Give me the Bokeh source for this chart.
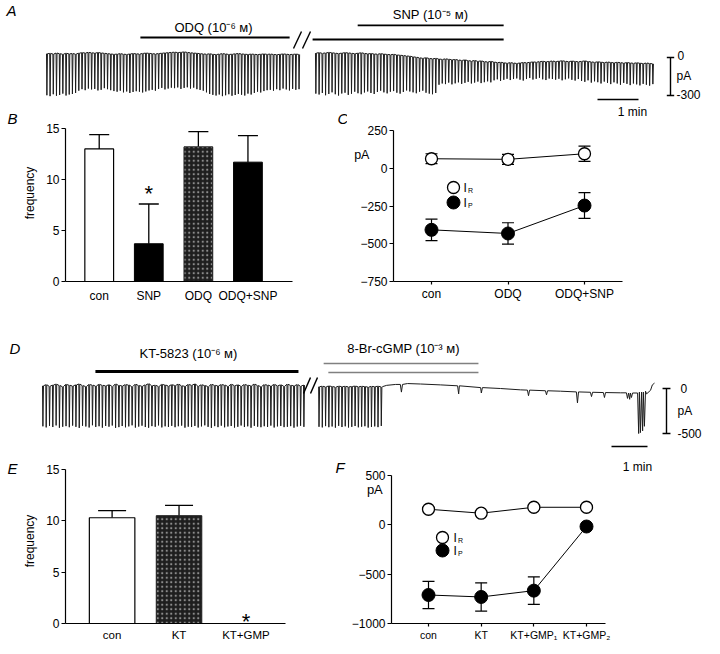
import numpy as np
from bokeh.plotting import figure
from bokeh.models import Range1d, ColumnDataSource, Whisker, TeeHead, Label, FixedTicker
from bokeh.layouts import column, row
from bokeh.embed import file_html
from bokeh.resources import INLINE

FONT = "Liberation Sans"

# ======================= DATA =======================
# Panel A: membrane current recording (pA); each spike = baseline, peak
A1_span = [0.0, 6.15]          # minutes (before break)
A1_base = [30, 32, 28, 35, 30, 26, 33, 29, 31, 27, 34, 38, 36, 40, 37, 35, 39, 36, 33, 30,
           28, 25, 27, 30, 26, 24, 28, 31, 29, 27, 32, 35, 33, 30, 28, 31, 34, 36, 38, 40,
           42, 39, 41, 44, 40, 37, 35, 33, 30, 28, 26, 29, 25, 23, 27, 30, 28, 24, 26, 29,
           31, 28, 26, 24, 27, 25, 23, 26, 28, 25, 27, 24, 22, 25, 28, 26, 23, 25, 27, 24]
A1_peak = [-298, -305, -290, -302, -296, -285, -300, -292, -288, -280,
           -262, -250, -258, -245, -252, -248, -260, -255, -242, -250,
           -258, -265, -270, -262, -275, -268, -280, -272, -266, -270,
           -276, -268, -260, -255, -262, -248, -240, -252, -245, -238,
           -242, -236, -248, -240, -235, -245, -238, -250, -256, -262,
           -275, -288, -295, -300, -292, -305, -298, -290, -302, -296,
           -288, -294, -300, -285, -292, -280, -270, -276, -265, -258,
           -255, -262, -250, -258, -245, -252, -260, -248, -255, -250]
A2_span = [6.56, 14.78]        # minutes (after break)
A2_base = [35, 38, 33, 36, 40, 37, 34, 31, 35, 38, 36, 33, 30, 34, 37, 32, 29, 31, 28, 26,
           30, 27, 24, 22, 25, 20, 18, 15, 12, 10,
           5, 2, -3, -6, -2, -8, -10, -7, -12, -15, -11, -14, -18, -16, -20, -23, -19, -25, -28, -24,
           -30, -27, -33, -35, -31,
           -36, -40, -38, -42, -45, -41, -44, -47, -43, -40, -42, -38, -35, -37, -33, -30, -34, -31, -28, -32,
           -29, -26, -30, -33, -28,
           -31, -34, -30, -27, -32, -35, -38, -34, -37, -40, -36, -39, -42, -38, -41, -44, -40, -43, -46, -42,
           -45, -48, -44, -47, -50]
A2_peak = [-285, -292, -280, -298, -288, -275, -290, -300, -284, -278,
           -295, -286, -270, -282, -290, -276, -268, -280, -288, -272,
           -262, -275, -283, -270, -265, -278, -285, -272, -260, -268,
           -275, -282, -270, -262, -278, -285, -290, -280,
           -215, -205, -210, -198, -212, -204, -196, -208, -200, -192,
           -205, -198, -190, -202, -195, -188, -196,
           -180, -172, -185, -176, -168, -178, -170, -165, -175, -182,
           -170, -162, -174, -168, -160, -172, -178, -166, -170, -175,
           -168, -180, -172, -165, -176, -182, -170,
           -185, -192, -180, -198, -188, -195, -205, -190, -200, -210,
           -196, -205, -215, -200, -208, -218, -205, -212, -220, -208,
           -215, -222, -210]
A_drug_text = ["ODQ (10\u207b\u2076 \u1d0d)", "SNP (10\u207b\u2075 \u1d0d)"]
A_drug_start = [2.29, 6.49, 7.59]
A_drug_end = [5.93, 11.15, 11.15]
A_drug_level = [158, 142, 253]
A_scale_pA = [0, -300]
A_scale_min = 1

# Panel B
B_cats = ["con", "SNP", "ODQ", "ODQ+SNP"]
B_mean = [13.0, 3.7, 13.2, 11.7]
B_err = [1.4, 3.9, 1.5, 2.6]
B_sig = ["", "*", "", ""]

# Panel C
C_cats = ["con", "ODQ", "ODQ+SNP"]
C_IR = [63, 59, 96]
C_IR_err = [33, 33, 50]
C_IP = [-408, -432, -247]
C_IP_err = [71, 71, 85]

# Panel D
D1_span = [0.0, 7.25]
D1_base = [30, 42, 25, 38, 48, 33, 20, 45, 36, 28, 40, 50, 32, 22, 44, 37, 27, 46, 35, 30,
           41, 24, 49, 34, 29, 43, 38, 21, 47, 33, 26, 40, 52, 31, 36, 23, 45, 39, 28, 42,
           34, 48, 30, 25, 44, 37, 50, 27, 41, 33, 22, 46, 35, 29, 43, 38, 24, 47, 32, 40,
           26, 44, 36, 30, 49, 33, 21, 42, 38, 28, 45, 31, 40, 25, 47, 35, 30, 43, 27, 38]
D1_peak = [-420, -432, -415, -428, -410, -436, -425, -418, -430, -412,
           -426, -438, -414, -422, -433, -408, -427, -419, -435, -416,
           -424, -411, -437, -429, -417, -431, -421, -409, -434, -423,
           -413, -428, -436, -418, -425, -410, -432, -420, -427, -415,
           -430, -419, -412, -435, -424, -428, -416, -433, -421, -409,
           -426, -437, -418, -429, -413, -431, -422, -417, -434, -425,
           -411, -428, -420, -436, -415, -424, -430, -419, -427, -412,
           -433, -421, -416, -429, -425, -418, -435, -422, -414, -426]
D2_span = [7.67, 9.40]
D2_base = [20, 25, 18, 28, 22, 15, 26, 20, 24, 18, 22, 27, 19, 24, 21, 16, 23, 20, 25, 18]
D2_peak = [-425, -432, -418, -430, -422, -435, -415, -428, -420, -433,
           -426, -417, -431, -424, -419, -434, -427, -421, -429, -416]
D2_tail_t = [9.44, 9.56, 9.81, 9.94, 9.97, 10.0, 10.14, 10.5, 11.06, 11.53, 11.56, 11.58,
             12.17, 12.19, 12.22, 12.72, 13.28, 13.47, 13.5, 13.53, 13.97, 14.0, 14.03, 14.39,
             14.83, 14.86, 14.89, 15.22, 15.25, 15.28, 15.58, 15.61, 15.64, 16.06,
             16.22, 16.25, 16.28, 16.31, 16.33, 16.36, 16.39,
             16.53, 16.56, 16.58, 16.61, 16.64, 16.67, 16.69, 16.72, 16.75, 16.78,
             16.89, 16.94, 17.0]
D2_tail_v = [20, 35, 45, 45, -40, 45, 55, 50, 40, 30, -60, 30,
             10, -50, 10, 0, -15, -18, -80, -18, -25, -70, -25, -30,
             -38, -160, -38, -42, -90, -42, -45, -100, -45, -48,
             -48, -110, -50, -120, -50, -100, -50,
             -50, -500, -40, -490, -40, -470, -40, -420, -30, -60,
             -20, 40, 60]
D_drug_text = ["KT-5823 (10\u207b\u2076 \u1d0d)", "8-Br-cGMP (10\u207b\u00b3 \u1d0d)"]
D_drug_start = [1.47, 7.81, 7.94]
D_drug_end = [7.11, 12.11, 12.11]
D_drug_level = [189, 278, 178]
D_drug_color = ["black", "#808080", "#808080"]
D_drug_width = [3, 1.6, 1.6]
D_scale_pA = [0, -500]
D_scale_min = 1

# Panel E
E_cats = ["con", "KT", "KT+GMP"]
E_mean = [10.3, 10.5, 0.0]
E_err = [0.7, 1.0, 0.0]
E_sig = ["", "", "*"]

# Panel F
F_cats = ["con", "KT", "KT+GMP\u2081", "KT+GMP\u2082"]
F_IR = [158, 118, 178, 178]
F_IP = [-711, -731, -667, -17]
F_IP_err = [138, 143, 139, 0]

# ======================= HELPERS =======================
BOTTOM = 31  # common bottom border of the chart rows


def lin(p, pa, va, pb, vb):
    return va + (p - pa) * (vb - va) / (pb - pa)


def mapper(L, R, T, Bt, xr, yr):
    def f(px, py):
        return (xr[0] + (px - L) / (R - L) * (xr[1] - xr[0]),
                yr[0] + (Bt - py) / (Bt - T) * (yr[1] - yr[0]))
    return f


def lab(p, conv, px, py, text, size="12px", align="left", style="normal",
        baseline="middle", color="black"):
    x, y = conv(px, py)
    p.add_layout(Label(x=x, y=y, text=text, text_font=FONT, text_font_size=size,
                       text_align=align, text_baseline=baseline,
                       text_font_style=style, text_color=color))


def trace_xy(span, base, peak):
    n = len(peak)
    ts = np.linspace(span[0], span[1], n)
    dt = (span[1] - span[0]) / (n - 1)
    xs, ys = [], []
    for t, b, pk in zip(ts, base, peak):
        xs += [t, t + 0.12 * dt, t + 0.3 * dt]
        ys += [b, pk, b]
    return xs, ys


def trace_fig(w, h, xr, yr, bottom=0):
    p = figure(width=w, height=h, x_range=Range1d(*xr), y_range=Range1d(*yr),
               output_backend="svg", toolbar_location=None,
               x_axis_location=None, y_axis_location=None,
               min_border=0, min_border_left=0, min_border_right=0,
               min_border_top=0, min_border_bottom=bottom)
    p.outline_line_color = None
    p.grid.visible = False
    return p


def strip(L, R, T, Bt):
    """Blank text carrier in a chart row (frame = canvas minus the common bottom border)."""
    fb = Bt - BOTTOM
    p = trace_fig(R - L, Bt - T, (0, R - L), (0, fb - T), bottom=BOTTOM)
    return p, mapper(L, R, T, fb, (0, R - L), (0, fb - T))


def chart_fig(w, h, xr, yr, left):
    p = figure(width=w, height=h, x_range=Range1d(*xr), y_range=Range1d(*yr),
               output_backend="svg", toolbar_location=None,
               min_border_left=left, min_border_right=0,
               min_border_top=0, min_border_bottom=BOTTOM)
    p.outline_line_color = None
    p.grid.visible = False
    for ax in p.axis:
        ax.axis_line_width = 1.2
        ax.axis_line_color = "black"
        ax.major_tick_line_width = 1.2
        ax.major_tick_line_color = "black"
        ax.minor_tick_line_color = None
        ax.major_tick_in = 0
        ax.major_label_text_font = FONT
        ax.major_label_text_font_size = "12px"
        ax.major_label_text_color = "black"
        ax.axis_label_text_color = "black"
    return p


def set_ticks(p, xticks, xlabels, xbounds, yticks, ybounds, x_tick_out, x_standoff, xsize="12px"):
    xa = p.xaxis[0]
    xa.ticker = FixedTicker(ticks=xticks)
    xa.major_label_overrides = {t: l for t, l in zip(xticks, xlabels)}
    xa.bounds = xbounds
    xa.major_tick_out = x_tick_out
    if x_tick_out == 0:
        xa.major_tick_line_color = None
    xa.major_label_standoff = x_standoff
    xa.major_label_text_font_size = xsize
    ya = p.yaxis[0]
    ya.ticker = FixedTicker(ticks=yticks)
    ya.bounds = ybounds
    ya.major_tick_out = 4
    ya.major_label_standoff = 2


def freq_label(p):
    ya = p.yaxis[0]
    ya.axis_label = "frequency"
    ya.axis_label_text_font = FONT
    ya.axis_label_text_font_size = "12px"
    ya.axis_label_text_font_style = "normal"
    ya.axis_label_text_color = "black"
    ya.axis_label_standoff = 6


def unit_label(p, text, size, n_lines, standoff, line_height):
    # horizontal "pA" unit placed near the top of the y axis (padding lines below it)
    ya = p.yaxis[0]
    ya.axis_label = text + "\n \u00a0" * (n_lines - 1)
    ya.axis_label_text_font = FONT
    ya.axis_label_text_font_size = size
    ya.axis_label_text_font_style = "normal"
    ya.axis_label_text_color = "black"
    ya.axis_label_text_line_height = line_height
    ya.axis_label_standoff = standoff
    if "axis_label_orientation" in ya.properties():
        ya.axis_label_orientation = "horizontal"


STIPPLE = dict(fill_color="#1e1e1e", line_color="#1e1e1e", hatch_pattern="dot",
               hatch_color="#8c8c8c", hatch_scale=4.5, hatch_weight=1)

ROW1_T = 104   # top of the B/C row
ROW2_T = 458   # top of the E/F row

# ======================= PANEL A =======================
A_L, A_R, A_T, A_B = 0, 720, 0, ROW1_T
tA = lambda px: (px - 46) / 41.0
yA = lambda py: (57 - py) / (38 / 300.0)
A_xr = (tA(A_L), tA(A_R))
A_yr = (yA(A_B), yA(A_T))
pA_ = trace_fig(A_R - A_L, A_B - A_T, A_xr, A_yr)
cA = mapper(A_L, A_R, A_T, A_B, A_xr, A_yr)
for span, base, peak in [(A1_span, A1_base, A1_peak), (A2_span, A2_base, A2_peak)]:
    xs, ys = trace_xy(span, base, peak)
    pA_.line(xs, ys, line_width=1.0, color="#1c1c1c")
pA_.segment(x0=A_drug_start, x1=A_drug_end, y0=A_drug_level, y1=A_drug_level,
            line_width=[2.0, 2.0, 1.8], color="black")
bx0, by0 = cA(293, 48); bx1, by1 = cA(301, 31)
bx2, by2 = cA(302, 48); bx3, by3 = cA(310, 31)
pA_.segment(x0=[bx0, bx2], y0=[by0, by2], x1=[bx1, bx3], y1=[by1, by3], line_width=1.4, color="black")
sx = tA(670)
pA_.segment(x0=[sx], x1=[sx], y0=[A_scale_pA[0]], y1=[A_scale_pA[1]], line_width=1.4, color="black")
pA_.segment(x0=[sx - 0.09, sx - 0.09], x1=[sx + 0.09, sx + 0.09], y0=A_scale_pA, y1=A_scale_pA,
            line_width=1.4, color="black")
tb0 = tA(597)
ty = yA(99)
pA_.segment(x0=[tb0], x1=[tb0 + A_scale_min], y0=[ty], y1=[ty], line_width=1.6, color="black")
lab(pA_, cA, 6, 10, "A", size="15px", style="italic")
lab(pA_, cA, 213, 27, A_drug_text[0], size="13px", align="center")
lab(pA_, cA, 430, 14, A_drug_text[1], size="13px", align="center")
lab(pA_, cA, 677, 55, "0", size="12px")
lab(pA_, cA, 676, 75, "pA", size="12px")
lab(pA_, cA, 676, 94, "-300", size="12px")

# ======================= PANEL B =======================
sB, csB = strip(0, 20, ROW1_T, 312)
lab(sB, csB, 7, 118, "B", size="15px", style="italic")
bxl = lambda px: lin(px, 97, 0, 247, 3)
byl = lambda py: lin(py, 281, 0, 128, 15)
B_xr = (bxl(63), bxl(300))
B_yr = (0, byl(ROW1_T))
pB = chart_fig(280, 312 - ROW1_T, B_xr, B_yr, 43)
set_ticks(pB, [0, 1, 2, 3], B_cats, (bxl(63), bxl(292)), [0, 5, 10, 15], (0, 15), 0, 7)
freq_label(pB)
bx = list(range(len(B_cats)))
pB.vbar(x=[bx[0]], top=[B_mean[0]], width=0.58, fill_color="white", line_color="black", line_width=1.2)
pB.vbar(x=[bx[1], bx[3]], top=[B_mean[1], B_mean[3]], width=0.58, fill_color="black", line_color="black")
pB.vbar(x=[bx[2]], top=[B_mean[2]], width=0.58, **STIPPLE)
srcB = ColumnDataSource(dict(x=bx, lo=B_mean, hi=[m + e for m, e in zip(B_mean, B_err)]))
pB.add_layout(Whisker(source=srcB, base="x", lower="lo", upper="hi", line_width=1.3,
                      upper_head=TeeHead(size=20, line_width=1.3), lower_head=None))
for i, s in enumerate(B_sig):
    if s:
        pB.text(x=[bx[i]], y=[B_mean[i] + B_err[i]], text=[s], text_font_size="22px",
                text_align="center", text_baseline="middle", y_offset=[-10])

# ======================= PANEL C =======================
sC, csC = strip(300, 347, ROW1_T, 312)
lab(sC, csC, 337, 118, "C", size="15px", style="italic")
cxl = lambda px: lin(px, 431, 0, 584, 2)
cyl = lambda py: lin(py, 281, -750, 130, 250)
C_xr = (cxl(393), cxl(720))
C_yr = (-750, cyl(ROW1_T))
pC = chart_fig(373, 312 - ROW1_T, C_xr, C_yr, 46)
cC = mapper(393, 720, ROW1_T, 281, C_xr, C_yr)
set_ticks(pC, [0, 1, 2], C_cats, (cxl(393), cxl(622)), [-750, -500, -250, 0, 250], (-750, 250), 3, 2)
unit_label(pC, "pA", "12.5px", 6, -12, 1.09)
cx = list(range(len(C_cats)))
pC.line(cx, C_IR, color="black", line_width=1.0)
pC.line(cx, C_IP, color="black", line_width=1.0)
srcC1 = ColumnDataSource(dict(x=cx, lo=[v - e for v, e in zip(C_IR, C_IR_err)], hi=[v + e for v, e in zip(C_IR, C_IR_err)]))
srcC2 = ColumnDataSource(dict(x=cx, lo=[v - e for v, e in zip(C_IP, C_IP_err)], hi=[v + e for v, e in zip(C_IP, C_IP_err)]))
for s in (srcC1, srcC2):
    pC.add_layout(Whisker(source=s, base="x", lower="lo", upper="hi", line_width=1.2,
                          upper_head=TeeHead(size=12, line_width=1.2), lower_head=TeeHead(size=12, line_width=1.2)))
pC.scatter(cx, C_IR, marker="circle", size=12, fill_color="white", line_color="black", line_width=1.3)
pC.scatter(cx, C_IP, marker="circle", size=13, fill_color="black", line_color="black")
lx, ly = cC(453, 187)
pC.scatter([lx], [ly], marker="circle", size=12, fill_color="white", line_color="black", line_width=1.3)
lx, ly = cC(453, 202)
pC.scatter([lx], [ly], marker="circle", size=13, fill_color="black", line_color="black")
lab(pC, cC, 463, 187, "I", size="12px")
lab(pC, cC, 467.5, 190, "R", size="7px")
lab(pC, cC, 463, 202, "I", size="12px")
lab(pC, cC, 467.5, 205, "P", size="7px")
lab(pC, cC, 632, 111, "1 min", size="12px", align="center")   # time scale label of panel A

# ======================= PANEL D =======================
D_L, D_R, D_T, D_B = 0, 720, 312, ROW2_T
tD = lambda px: (px - 42) / 36.0
yD = lambda py: (388 - py) / 0.09
D_xr = (tD(D_L), tD(D_R))
D_yr = (yD(D_B), yD(D_T))
pD = trace_fig(D_R - D_L, D_B - D_T, D_xr, D_yr)
cD = mapper(D_L, D_R, D_T, D_B, D_xr, D_yr)
for span, base, peak in [(D1_span, D1_base, D1_peak), (D2_span, D2_base, D2_peak)]:
    xs, ys = trace_xy(span, base, peak)
    pD.line(xs, ys, line_width=1.0, color="#1c1c1c")
pD.line(D2_tail_t, D2_tail_v, line_width=1.0, color="#1c1c1c")
pD.segment(x0=D_drug_start, x1=D_drug_end, y0=D_drug_level, y1=D_drug_level,
           line_width=D_drug_width, color=D_drug_color)
bx0, by0 = cD(303, 393); bx1, by1 = cD(310, 377)
bx2, by2 = cD(310, 393); bx3, by3 = cD(317, 377)
pD.segment(x0=[bx0, bx2], y0=[by0, by2], x1=[bx1, bx3], y1=[by1, by3], line_width=1.4, color="black")
sxd = tD(666)
pD.segment(x0=[sxd], x1=[sxd], y0=[D_scale_pA[0]], y1=[D_scale_pA[1]], line_width=1.4, color="black")
pD.segment(x0=[sxd - 0.11, sxd - 0.11], x1=[sxd + 0.11, sxd + 0.11], y0=D_scale_pA, y1=D_scale_pA,
           line_width=1.4, color="black")
tbd = tD(611)
tyd = yD(446)
pD.segment(x0=[tbd], x1=[tbd + D_scale_min], y0=[tyd], y1=[tyd], line_width=1.6, color="black")
lab(pD, cD, 9, 348, "D", size="15px", style="italic")
lab(pD, cD, 188, 353, D_drug_text[0], size="13px", align="center")
lab(pD, cD, 403, 348, D_drug_text[1], size="13px", align="center")
lab(pD, cD, 680, 388, "0", size="12px")
lab(pD, cD, 677, 410, "pA", size="12px")
lab(pD, cD, 677, 433, "-500", size="12px")

# ======================= PANEL E =======================
sE, csE = strip(0, 20, ROW2_T, 654)
lab(sE, csE, 7, 468, "E", size="15px", style="italic")
exl = lambda px: lin(px, 110, 0, 245, 2)
eyl = lambda py: lin(py, 623, 0, 469, 15)
E_xr = (exl(63), exl(300))
E_yr = (0, eyl(ROW2_T))
pE = chart_fig(280, 654 - ROW2_T, E_xr, E_yr, 43)
set_ticks(pE, [0, 1, 2], E_cats, (exl(63), exl(285)), [0, 5, 10, 15], (0, 15), 0, 5, xsize="11.5px")
freq_label(pE)
ex = list(range(len(E_cats)))
pE.vbar(x=[ex[0]], top=[E_mean[0]], width=0.68, fill_color="white", line_color="black", line_width=1.2)
pE.vbar(x=[ex[1]], top=[E_mean[1]], width=0.68, **STIPPLE)
keep = [i for i in ex if E_err[i] > 0]
srcE = ColumnDataSource(dict(x=[ex[i] for i in keep], lo=[E_mean[i] for i in keep],
                             hi=[E_mean[i] + E_err[i] for i in keep]))
pE.add_layout(Whisker(source=srcE, base="x", lower="lo", upper="hi", line_width=1.3,
                      upper_head=TeeHead(size=28, line_width=1.3), lower_head=None))
for i, s in enumerate(E_sig):
    if s:
        pE.text(x=[ex[i]], y=[E_mean[i]], text=[s], text_font_size="22px",
                text_align="center", text_baseline="middle", y_offset=[-2])

# ======================= PANEL F =======================
sF, csF = strip(300, 347, ROW2_T, 654)
lab(sF, csF, 335, 467, "F", size="15px", style="italic")
fxl = lambda px: lin(px, 428, 0, 586, 3)
fyl = lambda py: lin(py, 623, -1000, 475, 500)
F_xr = (fxl(391), fxl(720))
F_yr = (-1000, fyl(ROW2_T))
pF = chart_fig(373, 654 - ROW2_T, F_xr, F_yr, 44)
cF = mapper(391, 720, ROW2_T, 623, F_xr, F_yr)
set_ticks(pF, [0, 1, 2, 3], F_cats, (fxl(391), fxl(605)), [-1000, -500, 0, 500], (-1000, 500), 3, 2,
          xsize="10.5px")
unit_label(pF, "pA", "13px", 7, -34, 1.14)
fx = list(range(len(F_cats)))
pF.line(fx, F_IR, color="black", line_width=1.0)
pF.line(fx, F_IP, color="black", line_width=1.0)
keepF = [i for i in fx if F_IP_err[i] > 0]
srcF = ColumnDataSource(dict(x=[fx[i] for i in keepF], lo=[F_IP[i] - F_IP_err[i] for i in keepF],
                             hi=[F_IP[i] + F_IP_err[i] for i in keepF]))
pF.add_layout(Whisker(source=srcF, base="x", lower="lo", upper="hi", line_width=1.2,
                      upper_head=TeeHead(size=12, line_width=1.2), lower_head=TeeHead(size=12, line_width=1.2)))
pF.scatter(fx, F_IR, marker="circle", size=12, fill_color="white", line_color="black", line_width=1.3)
pF.scatter(fx, F_IP, marker="circle", size=13, fill_color="black", line_color="black")
lx, ly = cF(442, 537)
pF.scatter([lx], [ly], marker="circle", size=12, fill_color="white", line_color="black", line_width=1.3)
lx, ly = cF(442, 550)
pF.scatter([lx], [ly], marker="circle", size=13, fill_color="black", line_color="black")
lab(pF, cF, 453, 537, "I", size="12px")
lab(pF, cF, 457.5, 540, "R", size="7px")
lab(pF, cF, 453, 550, "I", size="12px")
lab(pF, cF, 457.5, 553, "P", size="7px")
lab(pF, cF, 637, 466, "1 min", size="12px", align="center")   # time scale label of panel D

layout = column(
    pA_,
    row(sB, pB, sC, pC, spacing=0),
    pD,
    row(sE, pE, sF, pF, spacing=0),
    spacing=0,
)
open("out.html", "w").write(file_html(layout, INLINE))
